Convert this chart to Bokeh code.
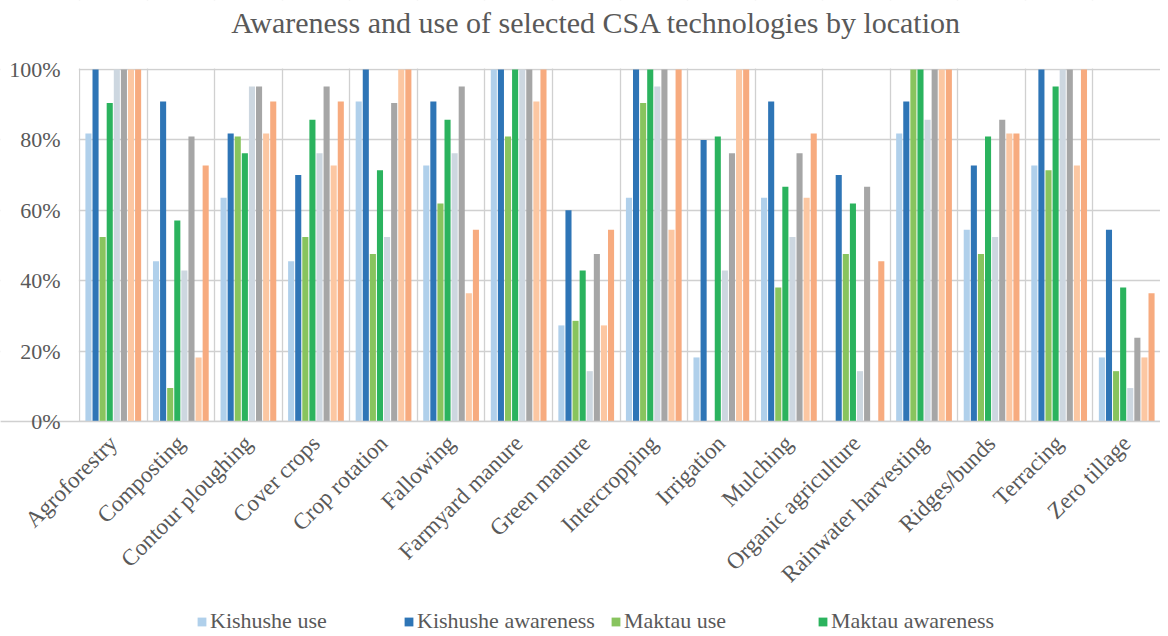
import numpy as np
from bokeh.plotting import figure
from bokeh.models import (ColumnDataSource, FixedTicker, Range1d, Legend, LegendItem,
                          PrintfTickFormatter, BoxAnnotation, Label)
from bokeh.transform import dodge
from bokeh.embed import file_html
from bokeh.resources import INLINE

title_text = "Awareness and use of selected CSA technologies by location"

categories = ["Agroforestry", "Composting", "Contour ploughing", "Cover crops",
              "Crop rotation", "Fallowing", "Farmyard manure", "Green manure",
              "Intercropping", "Irrigation", "Mulching", "Organic agriculture",
              "Rainwater harvesting", "Ridges/bunds", "Terracing", "Zero tillage"]

kishushe_use = [81.8, 45.5, 63.6, 45.5, 90.9, 72.7, 100, 27.3, 63.6, 18.2, 63.6, 0, 81.8, 54.5, 72.7, 18.2]
kishushe_awareness = [100, 90.9, 81.8, 70.0, 100, 90.9, 100, 60.0, 100, 80.0, 90.9, 70.0, 90.9, 72.7, 100, 54.5]
maktau_use = [52.4, 9.5, 81.0, 52.4, 47.6, 61.9, 81.0, 28.6, 90.5, 0, 38.1, 47.6, 100, 47.6, 71.4, 14.3]
maktau_awareness = [90.5, 57.1, 76.2, 85.7, 71.4, 85.7, 100, 42.9, 100, 81.0, 66.7, 61.9, 100, 81.0, 95.2, 38.1]
site3_use = [100, 42.9, 95.2, 76.2, 52.4, 76.2, 100, 14.3, 95.2, 42.9, 52.4, 14.3, 85.7, 52.4, 100, 9.5]
site3_awareness = [100, 81.0, 95.2, 95.2, 90.5, 95.2, 100, 47.6, 100, 76.2, 76.2, 66.7, 100, 85.7, 100, 23.8]
site4_use = [100, 18.2, 81.8, 72.7, 100, 36.4, 90.9, 27.3, 54.5, 100, 63.6, 0, 100, 81.8, 72.7, 18.2]
site4_awareness = [100, 72.7, 90.9, 90.9, 100, 54.5, 100, 54.5, 100, 100, 81.8, 45.5, 100, 81.8, 100, 36.4]

series_names = ["Kishushe use", "Kishushe awareness", "Maktau use", "Maktau awareness",
                "Site 3 use", "Site 3 awareness", "Site 4 use", "Site 4 awareness"]
series_values = [kishushe_use, kishushe_awareness, maktau_use, maktau_awareness,
                 site3_use, site3_awareness, site4_use, site4_awareness]
colors = ["#b0d0eb", "#2e75b6", "#88c45e", "#2bb35e", "#cdd7e0", "#a6a6a6", "#fcc7a2", "#f7ab7f"]
y_ticks = [0, 20, 40, 60, 80, 100]

n = len(categories)
xs = np.arange(n)
data = {"x": xs}
keys = [f"s{i}" for i in range(len(series_names))]
for k, v in zip(keys, series_values):
    data[k] = v
source = ColumnDataSource(data)

FONT = "Liberation Serif"
TXT = "#595959"
GRID = "#d0d0d0"

# layout (pixels): the frame covers the whole figure; the plot band spans
# x 79..W px of the figure and y 69..421 px from the top
W, H = 1160, 634
LEFT = 79
PY = 3.52                      # px per percent
PXC = (W - LEFT) / n           # px per category
x_start = -0.5 - LEFT / PXC
y_top = 100 + 69 / PY
y_bot = -(H - 421) / PY

p = figure(width=W, height=H, output_backend="svg", toolbar_location=None,
           x_range=Range1d(x_start, n - 0.5), y_range=Range1d(y_bot, y_top),
           min_border_left=0, min_border_right=0, min_border_top=0, min_border_bottom=0)
p.outline_line_color = None

step = 0.105
renderers = []
for i, (k, c) in enumerate(zip(keys, colors)):
    r = p.vbar(x=dodge("x", (i - 3.5) * step, range=p.x_range), top=k, width=0.09,
               bottom=0, source=source, fill_color=c, line_color=None)
    renderers.append(r)

# x axis drawn at value 0 inside the frame
p.xaxis.fixed_location = 0
p.xaxis.ticker = FixedTicker(ticks=list(range(n)))
p.xaxis.major_label_overrides = {i: c for i, c in enumerate(categories)}
p.xaxis.major_label_orientation = np.pi / 4
p.xaxis.major_label_text_font = FONT
p.xaxis.major_label_text_font_size = "23px"
p.xaxis.major_label_text_color = TXT
p.xaxis.major_label_standoff = 12
p.xaxis.major_tick_line_color = None
p.xaxis.minor_tick_line_color = None
p.xaxis.axis_line_color = GRID
p.xaxis.axis_line_width = 1.5

# y axis drawn at the left edge of the first category
p.yaxis.fixed_location = -0.5
p.yaxis.ticker = FixedTicker(ticks=y_ticks)
p.yaxis.formatter = PrintfTickFormatter(format="%d%%")
p.yaxis.major_label_text_font = FONT
p.yaxis.major_label_text_font_size = "22px"
p.yaxis.major_label_text_color = TXT
p.yaxis.major_tick_out = 0
p.yaxis.major_tick_in = 0
p.yaxis.major_label_standoff = 19
p.yaxis.major_tick_line_color = None
p.yaxis.minor_tick_line_color = None
p.yaxis.axis_line_color = None

p.xgrid.ticker = FixedTicker(ticks=[i - 0.5 for i in range(n + 1)])
p.xgrid.grid_line_color = GRID
p.xgrid.grid_line_width = 1.3
p.xgrid.level = "image"
p.ygrid.ticker = FixedTicker(ticks=y_ticks)
p.ygrid.grid_line_color = GRID
p.ygrid.grid_line_width = 1.3
p.ygrid.level = "image"

# white masks keep the grid inside the 0..100 band
mask = dict(fill_color="white", fill_alpha=1, line_color=None, level="underlay")
p.add_layout(BoxAnnotation(bottom=100.25, **mask))
p.add_layout(BoxAnnotation(top=0, **mask))
p.add_layout(BoxAnnotation(right=-0.51, **mask))

# title
p.add_layout(Label(x=596, y=H - 22, x_units="screen", y_units="screen", text=title_text,
                   text_font=FONT, text_font_size="30px", text_color=TXT,
                   text_align="center", text_baseline="middle"))

legend = Legend(items=[LegendItem(label=series_names[i], renderers=[renderers[i]]) for i in range(4)],
                orientation="horizontal", location=(196, 0))
legend.label_text_font = FONT
legend.label_text_font_size = "22px"
legend.label_text_color = TXT
legend.glyph_width = 11
legend.glyph_height = 11
legend.label_standoff = 3
legend.label_width = 180
legend.spacing = 13
legend.padding = 0
legend.margin = 0
legend.border_line_color = None
legend.background_fill_alpha = 0
p.add_layout(legend, "center")

open("out.html", "w").write(file_html(p, INLINE))
